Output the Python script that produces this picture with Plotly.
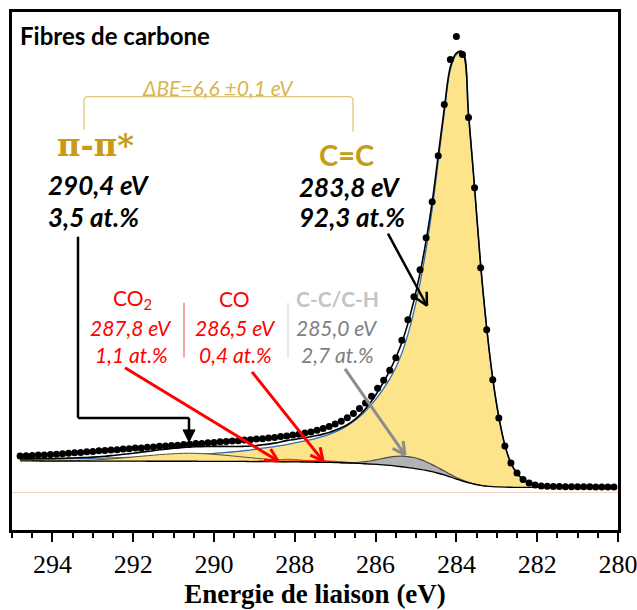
import numpy as np
import plotly.graph_objects as go

# ---------------- data ----------------
energy = [294.80, 294.65, 294.50, 294.35, 294.20, 294.05, 293.90, 293.75, 293.60, 293.45,
          293.30, 293.15, 293.00, 292.85, 292.70, 292.55, 292.40, 292.25, 292.10, 291.95,
          291.80, 291.65, 291.50, 291.35, 291.20, 291.05, 290.90, 290.75, 290.60, 290.45,
          290.30, 290.15, 290.00, 289.85, 289.70, 289.55, 289.40, 289.25, 289.10, 288.95,
          288.80, 288.65, 288.50, 288.35, 288.20, 288.05, 287.90, 287.75, 287.60, 287.45,
          287.30, 287.15, 287.00, 286.85, 286.70, 286.55, 286.40, 286.25, 286.10, 285.95,
          285.80, 285.65, 285.50, 285.35, 285.20, 285.05, 284.90, 284.75, 284.60, 284.45,
          284.30, 284.15, 284.00, 283.85, 283.70, 283.55, 283.40, 283.25, 283.10, 282.95,
          282.80, 282.65, 282.50, 282.35, 282.20, 282.05, 281.90, 281.75, 281.60, 281.45,
          281.30, 281.15, 281.00, 280.85, 280.70, 280.55, 280.40, 280.25, 280.10]

measured = [37.0, 37.3, 37.4, 37.9, 38.0, 38.5, 38.7, 39.3, 39.6, 40.2,
            40.5, 41.1, 41.4, 42.1, 42.3, 43.0, 43.2, 43.9, 44.1, 44.8,
            45.0, 45.7, 45.9, 46.6, 46.8, 47.5, 47.7, 48.4, 48.6, 49.3,
            49.5, 50.2, 50.4, 51.1, 51.3, 52.0, 52.2, 52.9, 53.1, 53.8,
            54.2, 55.0, 55.4, 56.3, 56.9, 57.9, 58.6, 59.9, 61.0, 62.7,
            64.3, 66.4, 68.8, 71.7, 75.2, 79.4, 84.3, 90.0, 96.7, 104.5,
            112.7, 122.5, 135.2, 152.5, 173.0, 196.0, 223.0, 255.0, 291.0, 337.0,
            388.0, 433.0, 456.0, 438.0, 375.0, 305.0, 225.0, 163.0, 113.0, 75.0,
            47.0, 30.0, 20.0, 13.5, 10.0, 8.0, 7.0, 6.7, 6.5, 6.4,
            6.3, 6.2, 6.2, 6.1, 6.1, 6.0, 6.0, 6.0, 6.0]

background = [32.0, 32.0, 32.0, 32.0, 31.9, 31.9, 31.9, 31.9, 31.9, 31.9,
              31.9, 31.8, 31.8, 31.8, 31.8, 31.8, 31.8, 31.8, 31.8, 31.8,
              31.8, 31.7, 31.7, 31.7, 31.7, 31.7, 31.7, 31.7, 31.7, 31.7,
              31.6, 31.6, 31.6, 31.6, 31.6, 31.5, 31.5, 31.5, 31.4, 31.4,
              31.4, 31.3, 31.3, 31.2, 31.2, 31.1, 31.0, 30.9, 30.8, 30.7,
              30.6, 30.5, 30.4, 30.2, 30.0, 29.8, 29.5, 29.2, 28.9, 28.5,
              28.0, 27.5, 26.9, 26.2, 25.4, 24.6, 23.6, 22.5, 21.2, 19.7,
              18.0, 16.0, 13.9, 11.9, 10.2, 8.7, 7.6, 6.8, 6.3, 6.0,
              5.8, 5.7, 5.6, 5.5, 5.5, 5.5, 5.5, 5.5, 5.5, 5.5,
              5.5, 5.5, 5.5, 5.5, 5.5, 5.5, 5.5, 5.5, 5.5]

# C=C component (height above background)
comp_cc = [2.0, 2.0, 2.1, 2.1, 2.2, 2.3, 2.3, 2.4, 2.5, 2.6,
           2.7, 2.8, 2.9, 3.0, 3.1, 3.3, 3.4, 3.6, 3.7, 3.9,
           4.1, 4.3, 4.5, 4.8, 5.0, 5.3, 5.6, 5.9, 6.2, 6.6,
           7.0, 7.4, 7.9, 8.4, 8.9, 9.4, 10.0, 10.7, 11.5, 12.4,
           13.3, 14.2, 15.1, 16.1, 17.2, 18.4, 19.7, 21.1, 22.6, 24.2,
           26.0, 28.1, 30.6, 33.6, 37.2, 41.5, 46.6, 52.6, 59.6, 67.5,
           76.5, 86.5, 98.5, 113.5, 133.0, 157.0, 186.0, 221.0, 262.0, 312.0,
           362.0, 407.0, 424.0, 428.0, 368.0, 296.0, 220.0, 158.0, 108.0, 70.0,
           42.0, 24.0, 14.0, 8.0, 4.5, 2.5, 1.5, 1.0, 0.7, 0.5,
           0.4, 0.3, 0.3, 0.2, 0.2, 0.2, 0.1, 0.1, 0.1]

# pi-pi* satellite
comp_pp = [0.0, 0.0, 0.0, 0.1, 0.1, 0.1, 0.2, 0.3, 0.4, 0.5,
           0.7, 0.9, 1.1, 1.4, 1.8, 2.2, 2.7, 3.2, 3.7, 4.3,
           4.9, 5.5, 6.0, 6.6, 7.0, 7.4, 7.7, 7.9, 8.0, 7.9,
           7.7, 7.4, 7.0, 6.5, 6.0, 5.5, 4.9, 4.3, 3.8, 3.2,
           2.7, 2.2, 1.8, 1.5, 1.2, 0.9, 0.7, 0.5, 0.4, 0.3,
           0.2, 0.2, 0.1, 0.1, 0.1, 0.0, 0.0, 0.0, 0.0, 0.0,
           0.0, 0.0, 0.0, 0.0, 0.0, 0.0, 0.0, 0.0, 0.0, 0.0,
           0.0, 0.0, 0.0, 0.0, 0.0, 0.0, 0.0, 0.0, 0.0, 0.0,
           0.0, 0.0, 0.0, 0.0, 0.0, 0.0, 0.0, 0.0, 0.0, 0.0,
           0.0, 0.0, 0.0, 0.0, 0.0, 0.0, 0.0, 0.0, 0.0]

# CO2 component
comp_co2 = [0.0] * 37 + [0.1, 0.2, 0.4,
            0.7, 1.1, 1.6, 2.1, 2.5, 2.4, 2.1, 1.7, 1.2, 0.8,
            0.5, 0.3, 0.2, 0.1] + [0.0] * 45

# CO component
comp_co = [0.0] * 43 + [0.1, 0.2, 0.4, 0.6, 0.9, 1.2, 1.4,
           1.5, 1.4, 1.2, 0.9, 0.6, 0.4, 0.2, 0.1] + [0.0] * 41

# C-C / C-H component
comp_cch = [0.0] * 52 + [0.1, 0.15, 0.3, 0.6, 1.2, 2.1, 3.3, 4.9,
            6.6, 8.3, 9.7, 10.6, 11.0, 10.8, 10.0, 8.7, 7.1, 5.4,
            3.9, 2.6, 1.6, 0.9, 0.5, 0.25, 0.1] + [0.0] * 22

tick_vals = [294, 292, 290, 288, 286, 284, 282, 280]
tick_text = ["294", "292", "290", "288", "286", "284", "282", "280"]

# ---------------- figure ----------------
E = np.array(energy)
bg = np.array(background)
envelope = bg + np.array(comp_cc) + np.array(comp_pp) + np.array(comp_co2) \
    + np.array(comp_co) + np.array(comp_cch)

fig = go.Figure()


def add_component(comp, fillcolor, linecolor, linewidth):
    c = np.array(comp)
    idx = np.nonzero(c > 0)[0]
    lo = max(idx[0] - 1, 0)
    hi = min(idx[-1] + 2, len(c))
    x = E[lo:hi]
    base = bg[lo:hi]
    top = base + c[lo:hi]
    fig.add_trace(go.Scatter(x=x, y=base, mode="lines",
                             line=dict(width=0, shape="spline"),
                             hoverinfo="skip", showlegend=False))
    fig.add_trace(go.Scatter(x=x, y=top, mode="lines", fill="tonexty",
                             fillcolor=fillcolor,
                             line=dict(color=linecolor, width=linewidth, shape="spline"),
                             showlegend=False))


YELLOW = "#FDE48B"
add_component(comp_cc, YELLOW, "#2E6DB4", 1.3)
add_component(comp_pp, YELLOW, "#5A5030", 1.0)
add_component(comp_co2, "rgba(240,140,20,0.9)", "#D05000", 1.0)
add_component(comp_co, "rgba(255,40,0,0.7)", "#FF2000", 1.2)
add_component(comp_cch, "#B3B3B3", "#4A4A4A", 1.2)

fig.add_trace(go.Scatter(x=E, y=bg, mode="lines",
                         line=dict(color="black", width=1.3, shape="spline"),
                         showlegend=False))
fig.add_trace(go.Scatter(x=E, y=envelope, mode="lines",
                         line=dict(color="black", width=1.6, shape="spline"),
                         showlegend=False))
fig.add_trace(go.Scatter(x=E, y=measured, mode="markers",
                         marker=dict(color="black", size=7),
                         showlegend=False))

# ---------------- annotation helpers (pixel -> data positions) ----------------
PX0, PXE = 12.0, 40.4   # left edge pixel, pixels per eV
Y0PX = 493.0            # pixel row of zero intensity


def X(xp):
    return 295.0 - (xp - PX0) / PXE


def Y(yp):
    return Y0PX - yp


def text(xp, yp, s, size, color, family="Lato", bold=False, italic=False, xanchor="center"):
    fig.add_annotation(x=X(xp), y=Y(yp), xref="x", yref="y", text=s, showarrow=False,
                       xanchor=xanchor, yanchor="middle",
                       font=dict(family=family, size=size, color=color,
                                 weight="bold" if bold else "normal",
                                 style="italic" if italic else "normal"))


def seg(x0, y0, x1, y1, color, width):
    fig.add_shape(type="line", xref="x", yref="y", x0=X(x0), y0=Y(y0), x1=X(x1), y1=Y(y1),
                  line=dict(color=color, width=width))


def arrow(x0, y0, x1, y1, color, width, head=14, ang=27):
    seg(x0, y0, x1, y1, color, width)
    th = np.arctan2(y1 - y0, x1 - x0)
    for s in (-1, 1):
        a = th + np.pi + s * np.radians(ang)
        seg(x1, y1, x1 + head * np.cos(a), y1 + head * np.sin(a), color, width)


GOLD = "#C79C14"
LGOLD = "#D8B64E"
RED = "#FF0000"

text(18, 36, "Fibres de carbone", 24, "black", bold=True, xanchor="left")
text(218, 88, "ΔBE=6,6 ±0,1 eV", 21, LGOLD, italic=True)
fig.add_shape(type="path", xref="x", yref="y",
              path=(f"M {X(84)},{Y(130)} L {X(84)},{Y(101)} Q {X(84)},{Y(97)} {X(88)},{Y(97)} "
                    f"L {X(349)},{Y(97)} Q {X(353)},{Y(97)} {X(353)},{Y(101)} L {X(353)},{Y(132)}"),
              line=dict(color="#E2C77A", width=1.3))

text(95, 145, "π-π*", 32, GOLD, family="DejaVu Serif", bold=True)
text(46, 185, "290,4 eV", 26, "black", bold=True, italic=True, xanchor="left")
text(46, 217, "3,5 at.%", 26, "black", bold=True, italic=True, xanchor="left")

text(346, 155, "C=C", 29, GOLD, bold=True)
text(297, 187, "283,8 eV", 26, "black", bold=True, italic=True, xanchor="left")
text(297, 217, "92,3 at.%", 26, "black", bold=True, italic=True, xanchor="left")

text(132, 299, "CO<sub>2</sub>", 21, RED)
text(131, 328, "287,8 eV", 21, RED, italic=True)
text(131, 355, "1,1 at.%", 21, RED, italic=True)
text(234, 299, "CO", 21, RED)
text(235, 328, "286,5 eV", 21, RED, italic=True)
text(235, 355, "0,4 at.%", 21, RED, italic=True)
text(337, 299, "C-C/C-H", 21, "#C4C4C4", bold=True)
text(337, 328, "285,0 eV", 21, "#808080", italic=True)
text(337, 355, "2,7 at.%", 21, "#808080", italic=True)
seg(184, 303, 184, 358, "#F26B6B", 1.2)
seg(288, 303, 288, 358, "#D9D9D9", 1.2)

# elbow arrow to the pi-pi* satellite
seg(78, 237, 78, 418, "black", 2.5)
seg(78, 418, 189, 418, "black", 2.5)
seg(189, 418, 189, 431, "black", 2.5)
fig.add_shape(type="path", xref="x", yref="y",
              path=f"M {X(183)},{Y(430)} L {X(195)},{Y(430)} L {X(189)},{Y(442)} Z",
              fillcolor="black", line=dict(color="black", width=1))

arrow(388, 234, 427, 306, "black", 2.5)
arrow(125, 368, 278, 461, RED, 3)
arrow(252, 372, 323, 461, RED, 3)
arrow(345, 369, 405, 455, "#8C8C8C", 3)

fig.update_layout(
    width=637, height=610,
    margin=dict(l=12, r=19, t=12, b=80, autoexpand=False),
    paper_bgcolor="white", plot_bgcolor="white",
    showlegend=False,
    xaxis=dict(range=[295, 280], tickmode="array", tickvals=tick_vals, ticktext=tick_text,
               automargin=False,
               ticks="outside", ticklen=9, tickwidth=2, tickcolor="black",
               ticklabeloverflow="allow",
               minor=dict(dtick=0.5, tick0=280, ticks="outside", ticklen=5,
                          tickwidth=2, tickcolor="black"),
               showline=True, linewidth=3, linecolor="black", mirror=True,
               showgrid=False, zeroline=False,
               tickfont=dict(family="Liberation Serif", size=26, color="black"),
               title=dict(text="Energie de liaison (eV)", standoff=4,
                          font=dict(family="Liberation Serif", size=27, color="black",
                                    weight="bold"))),
    yaxis=dict(range=[-37, 480.5], showticklabels=False, ticks="", automargin=False,
               showline=True, linewidth=3, linecolor="black", mirror=True,
               showgrid=False, zeroline=True, zerolinecolor="#F6D3C4", zerolinewidth=1),
)

fig.write_html("out.html", config={"displayModeBar": False},
               post_script="document.body.style.margin='0px';")
